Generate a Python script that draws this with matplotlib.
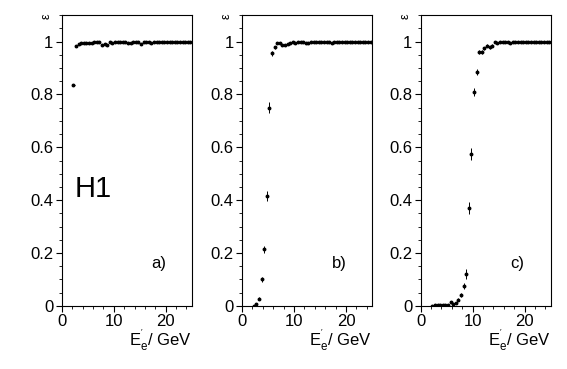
import matplotlib
matplotlib.use("Agg")
import matplotlib.pyplot as plt
from matplotlib.ticker import MultipleLocator

plt.rcParams["font.family"] = ["Liberation Sans", "DejaVu Sans"]
plt.rcParams["mathtext.fontset"] = "custom"
plt.rcParams["mathtext.rm"] = "Liberation Sans"
plt.rcParams["mathtext.it"] = "Liberation Sans"

# bin centres (GeV) and efficiencies
x_a = [2.25, 2.75, 3.25, 3.75, 4.25, 4.75, 5.25, 5.75, 6.25, 6.75, 7.25, 7.75,
       8.25, 8.75, 9.25, 9.75, 10.25, 10.75, 11.25, 11.75, 12.25, 12.75, 13.25,
       13.75, 14.25, 14.75, 15.25, 15.75, 16.25, 16.75, 17.25, 17.75, 18.25,
       18.75, 19.25, 19.75, 20.25, 20.75, 21.25, 21.75, 22.25, 22.75, 23.25,
       23.75, 24.25, 24.75]
y_a = [0.835, 0.985, 0.99, 0.993, 0.994, 0.995, 0.995, 0.996, 0.998, 1.0, 0.998,
       0.988, 0.99, 0.988, 0.997, 0.995, 0.999, 1.0, 1.0, 1.0, 0.999, 0.993,
       0.995, 0.997, 1.0, 0.998, 0.992, 1.0, 1.0, 0.998, 0.994, 0.999, 0.998,
       1.0, 1.0, 1.0, 0.999, 1.0, 1.0, 1.0, 1.0, 1.0, 1.0, 1.0, 1.0, 1.0]
e_a = [0.004, 0.003, 0.003, 0.002, 0.002, 0.002, 0.002, 0.002, 0.002, 0.002,
       0.002, 0.003, 0.003, 0.003, 0.002, 0.002, 0.002, 0.002, 0.002, 0.002,
       0.002, 0.002, 0.002, 0.002, 0.002, 0.002, 0.002, 0.002, 0.002, 0.002,
       0.002, 0.002, 0.002, 0.002, 0.002, 0.002, 0.002, 0.002, 0.002, 0.002,
       0.002, 0.002, 0.002, 0.002, 0.002, 0.002]

x_b = [2.25, 2.75, 3.25, 3.75, 4.25, 4.75, 5.25, 5.75, 6.25, 6.75, 7.25, 7.75,
       8.25, 8.75, 9.25, 9.75, 10.25, 10.75, 11.25, 11.75, 12.25, 12.75, 13.25,
       13.75, 14.25, 14.75, 15.25, 15.75, 16.25, 16.75, 17.25, 17.75, 18.25,
       18.75, 19.25, 19.75, 20.25, 20.75, 21.25, 21.75, 22.25, 22.75, 23.25,
       23.75, 24.25, 24.75]
y_b = [0.0, 0.008, 0.027, 0.1, 0.215, 0.415, 0.75, 0.955, 0.978, 0.995, 0.993,
       0.988, 0.987, 0.99, 0.995, 0.998, 0.995, 1.0, 0.997, 1.0, 0.996, 0.993,
       0.997, 1.0, 1.0, 1.0, 0.998, 1.0, 1.0, 0.998, 0.996, 0.999, 0.998, 1.0,
       1.0, 1.0, 1.0, 1.0, 1.0, 1.0, 1.0, 1.0, 1.0, 1.0, 1.0, 1.0]
e_b = [0.001, 0.003, 0.005, 0.008, 0.013, 0.02, 0.02, 0.01, 0.006, 0.003, 0.003,
       0.003, 0.003, 0.003, 0.002, 0.002, 0.002, 0.002, 0.002, 0.002, 0.002,
       0.002, 0.002, 0.002, 0.002, 0.002, 0.002, 0.002, 0.002, 0.002, 0.002,
       0.002, 0.002, 0.002, 0.002, 0.002, 0.002, 0.002, 0.002, 0.002, 0.002,
       0.002, 0.002, 0.002, 0.002, 0.002]

x_c = [2.25, 2.75, 3.25, 3.75, 4.25, 4.75, 5.25, 5.75, 6.25, 6.75, 7.25, 7.75,
       8.25, 8.75, 9.25, 9.75, 10.25, 10.75, 11.25, 11.75, 12.25, 12.75, 13.25,
       13.75, 14.25, 14.75, 15.25, 15.75, 16.25, 16.75, 17.25, 17.75, 18.25,
       18.75, 19.25, 19.75, 20.25, 20.75, 21.25, 21.75, 22.25, 22.75, 23.25,
       23.75, 24.25, 24.75]
y_c = [0.0, 0.002, 0.002, 0.003, 0.003, 0.004, 0.004, 0.015, 0.006, 0.012,
       0.024, 0.04, 0.075, 0.12, 0.37, 0.575, 0.81, 0.885, 0.96, 0.96, 0.975,
       0.985, 0.978, 0.985, 0.998, 0.995, 0.997, 1.0, 1.0, 0.998, 0.993, 0.999,
       0.997, 1.0, 1.0, 1.0, 1.0, 0.999, 1.0, 1.0, 1.0, 1.0, 1.0, 1.0, 1.0, 1.0]
e_c = [0.001, 0.001, 0.001, 0.001, 0.001, 0.001, 0.001, 0.004, 0.003, 0.004,
       0.006, 0.008, 0.012, 0.02, 0.022, 0.022, 0.016, 0.012, 0.008, 0.008,
       0.006, 0.005, 0.005, 0.004, 0.003, 0.003, 0.003, 0.002, 0.002, 0.002,
       0.002, 0.002, 0.002, 0.002, 0.002, 0.002, 0.002, 0.002, 0.002, 0.002,
       0.002, 0.002, 0.002, 0.002, 0.002, 0.002]

panels = [(x_a, y_a, e_a, "a)"), (x_b, y_b, e_b, "b)"), (x_c, y_c, e_c, "c)")]
lefts = [0.109, 0.427, 0.742]

fig = plt.figure(figsize=(5.67, 3.69), dpi=100)
fs = 12

for (x, y, e, lab), left in zip(panels, lefts):
    ax = fig.add_axes([left, 0.171, 0.229, 0.788])
    ax.errorbar(x, y, yerr=e, xerr=0.2, fmt="o", ms=1.8, color="black",
                elinewidth=0.7, capsize=0)
    ax.set_xlim(0, 25)
    ax.set_ylim(0, 1.1)
    ax.set_yticks([0, 0.2, 0.4, 0.6, 0.8, 1.0])
    ax.set_yticklabels(["0", "0.2", "0.4", "0.6", "0.8", "1"])
    ax.set_xticks([0, 10, 20])
    ax.xaxis.set_minor_locator(MultipleLocator(2))
    ax.yaxis.set_minor_locator(MultipleLocator(0.05))
    ax.tick_params(which="major", direction="out", length=4, width=0.8,
                   labelsize=fs, pad=2)
    ax.tick_params(which="minor", direction="out", length=2, width=0.6)
    for sp in ax.spines.values():
        sp.set_linewidth(0.8)
    ax.text(-0.12, 0.995, "ε", transform=ax.transAxes, rotation=90,
            fontsize=9, ha="center", va="center")
    ax.text(1.0, -0.141, r"$\mathregular{E_e^{'}}$/ GeV", transform=ax.transAxes,
            ha="right", va="baseline", fontsize=fs)
    ax.text(17.3, 0.143, lab, fontsize=fs, ha="left", va="baseline")
    if lab == "a)":
        ax.text(2.5, 0.411, "H1", fontsize=21, ha="left", va="baseline")

fig.savefig("out.png", dpi=100)
